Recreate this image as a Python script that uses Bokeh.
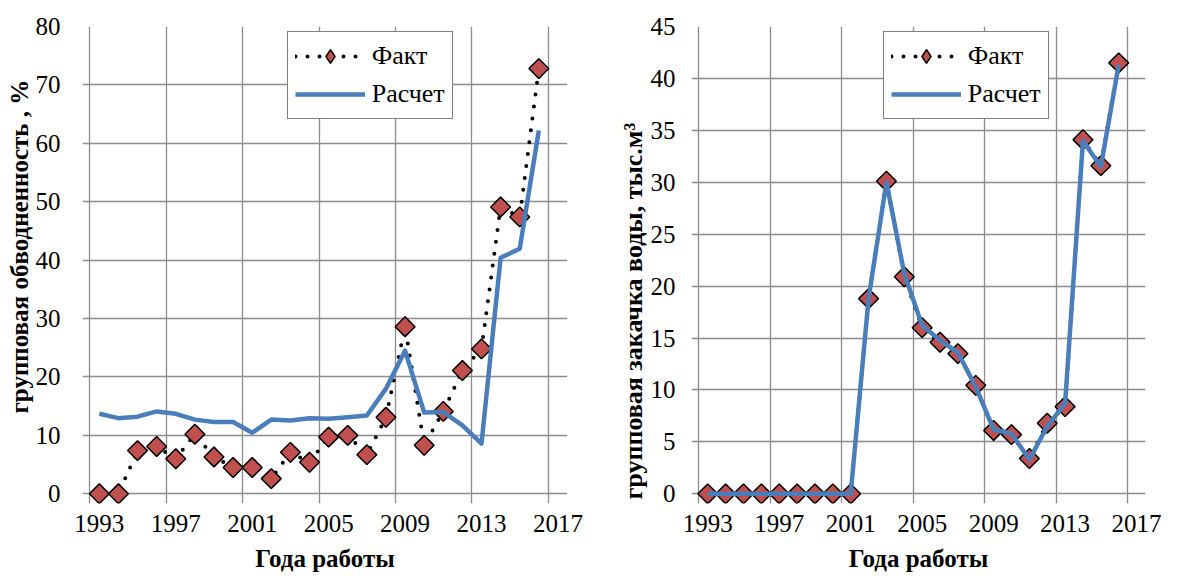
import numpy as np
from bokeh.plotting import figure
from bokeh.layouts import row
from bokeh.models import Range1d, FixedTicker, Legend, LegendItem, Title
from bokeh.embed import file_html
from bokeh.resources import INLINE

# Years of operation and axis ticks
years = [1993, 1994, 1995, 1996, 1997, 1998, 1999, 2000, 2001, 2002, 2003, 2004,
         2005, 2006, 2007, 2008, 2009, 2010, 2011, 2012, 2013, 2014, 2015, 2016]
year_ticks = [1993, 1997, 2001, 2005, 2009, 2013, 2017]
year_grid = [1992.5, 1996.5, 2000.5, 2004.5, 2008.5, 2012.5, 2016.5]

# Group water cut, %
water_cut_fact = [0, 0, 7.4, 8.1, 6.0, 10.2, 6.3, 4.5, 4.5, 2.6, 7.1, 5.4,
                  9.7, 10.0, 6.7, 13.1, 28.6, 8.3, 14.1, 21.1, 24.8, 49.1, 47.4, 72.8]
water_cut_calc = [13.7, 12.95, 13.2, 14.1, 13.7, 12.7, 12.3, 12.3, 10.45, 12.7, 12.55, 12.95,
                  12.85, 13.1, 13.4, 18.0, 24.5, 13.9, 14.0, 11.7, 8.6, 40.4, 41.95, 62.2]
water_cut_ticks = [0, 10, 20, 30, 40, 50, 60, 70, 80]

# Group water injection, thousand m3
injection_fact = [0, 0, 0, 0, 0, 0, 0, 0, 0, 18.8, 30.1, 20.9,
                  16.0, 14.6, 13.5, 10.45, 6.1, 5.7, 3.4, 6.8, 8.4, 34.1, 31.6, 41.5]
injection_calc = [0, 0, 0, 0, 0, 0, 0, 0, 0, 18.8, 30.0, 21.2,
                  16.2, 14.8, 13.6, 10.3, 6.2, 5.8, 3.3, 6.5, 8.7, 34.0, 31.5, 41.3]
injection_ticks = [0, 5, 10, 15, 20, 25, 30, 35, 40, 45]

FONT = "Liberation Serif"
GRID = "#8c8c8c"
RED = "#C0504D"
BLUE = "#4A7EBB"


def make_panel(fact, calc, y_ticks, y_lo, x_lo, frame_w, border_l, border_r,
               ylabel, ylabel_size, ylabel_offset, tick_standoff, legend_pos):
    p = figure(frame_width=frame_w, frame_height=477,
               x_range=Range1d(x_lo, 2017.5), y_range=Range1d(y_lo, y_ticks[-1]),
               output_backend="svg", toolbar_location=None,
               min_border_left=border_l, min_border_right=border_r,
               min_border_top=26, min_border_bottom=73)
    p.outline_line_color = None
    p.background_fill_color = "white"
    p.border_fill_color = "white"

    # axes: labels only, grid lines serve as axis lines and tick marks
    p.xaxis.ticker = FixedTicker(ticks=year_ticks)
    p.yaxis.ticker = FixedTicker(ticks=y_ticks)
    for ax in (p.xaxis, p.yaxis):
        ax.axis_line_color = None
        ax.major_tick_line_color = None
        ax.minor_tick_line_color = None
        ax.major_label_text_font = FONT
        ax.major_label_text_font_size = "25px"
        ax.major_label_text_color = "black"
    p.xaxis.major_label_standoff = 5
    p.yaxis.major_label_standoff = tick_standoff
    p.xaxis.axis_label = "Года работы"
    p.xaxis.axis_label_text_font = FONT
    p.xaxis.axis_label_text_font_size = "25px"
    p.xaxis.axis_label_text_font_style = "bold"
    p.xaxis.axis_label_text_color = "black"
    p.xaxis.axis_label_standoff = 10

    p.xgrid.ticker = FixedTicker(ticks=year_grid)
    p.ygrid.ticker = FixedTicker(ticks=y_ticks)
    for g in (p.xgrid, p.ygrid):
        g.grid_line_color = GRID
        g.grid_line_width = 1.3

    fact_line = p.line(years, fact, line_color="black", line_width=4,
                       line_dash="0 12", line_cap="round")
    p.scatter(years, fact, marker="square", angle=np.pi / 4, size=14,
              fill_color=RED, line_color="black", line_width=1.5)
    calc_line = p.line(years, calc, line_color=BLUE, line_width=4.5,
                       line_join="round")
    # legend key marker (markers are drawn unrotated in legends); a NaN point draws nothing in the plot
    fact_key = p.scatter([float("nan")], [float("nan")], marker="diamond", fill_color=RED,
                         line_color="black", line_width=1.5)

    legend = Legend(items=[LegendItem(label="Факт", renderers=[fact_line, fact_key]),
                           LegendItem(label="Расчет", renderers=[calc_line])],
                    location=legend_pos, orientation="vertical",
                    glyph_width=70, glyph_height=34, label_standoff=7,
                    padding=7, spacing=4, margin=0,
                    label_text_font=FONT, label_text_font_size="26px",
                    label_text_color="black",
                    border_line_color="black", border_line_width=1.5,
                    background_fill_color="white", background_fill_alpha=1.0)
    p.add_layout(legend)

    # vertical axis title, measured from the bottom of the plot frame
    p.add_layout(Title(text=ylabel, align="left", offset=ylabel_offset,
                       text_font=FONT, text_font_size=ylabel_size, text_font_style="bold",
                       text_color="black", standoff=0), "left")
    return p


left = make_panel(water_cut_fact, water_cut_calc, water_cut_ticks, -1.66, 1992.12,
                  485, 82, 33, "групповая обводненность , %", "25px", 90, 16,
                  (204.7, 383.7))
right = make_panel(injection_fact, injection_calc, injection_ticks, -0.93, 1992.09,
                   454, 91, 54, "групповая закачка воды, тыс.м³", "26px", 4, 10,
                   (191.7, 383.7))

layout = row(left, right)
open("out.html", "w").write(file_html(layout, INLINE))
